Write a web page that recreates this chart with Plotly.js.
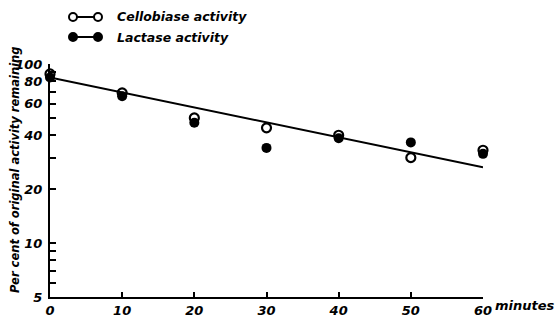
<!DOCTYPE html>
<html>
<head>
<meta charset="utf-8">
<script src="https://cdn.plot.ly/plotly-3.0.1.min.js"></script>
<style>html,body{margin:0;padding:0;background:#fff}#chart{width:558px;height:318px}</style>
</head>
<body>
<div id="chart"></div>
<script>
// Data
var minutes = [0, 10, 20, 30, 40, 50, 60];
var cellobiase = [88, 69, 50, 44, 40, 30, 33];
var lactase = [84, 66, 47, 34, 38.5, 36.5, 31.5];
var fitX = [0, 60];
var fitY = [84, 26.5];
var yTickVals = [5, 6, 7, 8, 9, 10, 20, 30, 40, 50, 60, 70, 80, 90, 100];
var yTickText = ['5', '', '', '', '', '10', '20', '', '40', '', '60', '', '80', '', '100'];
var xTickVals = [0, 10, 20, 30, 40, 50, 60];
var xTickText = ['0', '10', '20', '30', '40', '50', '60'];
var legendNames = ['Cellobiase activity', 'Lactase activity'];
var yTitle = 'Per cent of original activity remaining';
var xUnit = 'minutes';

var F = 'DejaVu Sans';
var tickFont = {family: F, size: 13, color: '#000', weight: 'bold', style: 'italic'};

var traces = [
  {x: fitX, y: fitY, mode: 'lines', line: {color: '#000', width: 2}, hoverinfo: 'skip', cliponaxis: false},
  {x: minutes, y: cellobiase, mode: 'markers', name: legendNames[0], cliponaxis: false,
   marker: {symbol: 'circle-open', size: 9, color: '#000', line: {width: 2.2, color: '#000'}}},
  {x: minutes, y: lactase, mode: 'markers', name: legendNames[1], cliponaxis: false,
   marker: {symbol: 'circle', size: 10, color: '#000'}}
];

// plot area in pixels: x 50..483, y 64..297
var W = 433, H = 233;
function px(x){return (x-50)/W;}
function py(y){return (297-y)/H;}
var rx = 4/W, ry = 4/H;
var shapes = [];
var annotations = [];
[[17, false], [37, true]].forEach(function(row, i){
  var y = row[0], filled = row[1];
  shapes.push({type: 'line', xref: 'paper', yref: 'paper', x0: px(73), x1: px(98), y0: py(y), y1: py(y), line: {color: '#000', width: 2}});
  [73, 98].forEach(function(cx){
    shapes.push({type: 'circle', xref: 'paper', yref: 'paper', x0: px(cx)-rx, x1: px(cx)+rx, y0: py(y)-ry, y1: py(y)+ry,
      fillcolor: filled ? '#000' : '#fff', line: {color: '#000', width: 2}});
  });
  annotations.push({xref: 'paper', yref: 'paper', x: px(115), y: py(y), xanchor: 'left', yanchor: 'middle', showarrow: false,
    text: legendNames[i], font: {family: F, size: 12.5, color: '#000', weight: 'bold', style: 'italic'}});
});
annotations.push({xref: 'paper', yref: 'paper', x: px(493), y: py(305), xanchor: 'left', yanchor: 'middle', showarrow: false,
  text: xUnit, font: tickFont});
annotations.push({xref: 'paper', yref: 'paper', x: px(15), y: py(170), xanchor: 'center', yanchor: 'middle', showarrow: false,
  textangle: -90, text: yTitle, font: {family: F, size: 11.5, color: '#000', weight: 'bold', style: 'italic'}});

var layout = {
  width: 558, height: 318,
  margin: {l: 50, r: 75, t: 64, b: 21},
  paper_bgcolor: '#fff', plot_bgcolor: '#fff',
  showlegend: false,
  xaxis: {range: [0, 60], tickvals: xTickVals, ticktext: xTickText, ticks: 'inside', ticklen: 5, tickwidth: 2, tickcolor: '#000',
    showline: true, linecolor: '#000', linewidth: 2, showgrid: false, zeroline: false, tickfont: tickFont, fixedrange: true},
  yaxis: {type: 'log', range: [Math.log10(5), Math.log10(100)], tickvals: yTickVals, ticktext: yTickText, ticks: 'inside', ticklen: 6, tickwidth: 2,
    tickcolor: '#000', showline: true, linecolor: '#000', linewidth: 2, showgrid: false, zeroline: false, tickfont: tickFont, fixedrange: true,
    ticklabelstandoff: 3},
  shapes: shapes,
  annotations: annotations
};
Plotly.newPlot('chart', traces, layout, {staticPlot: true});
</script>
</body>
</html>
